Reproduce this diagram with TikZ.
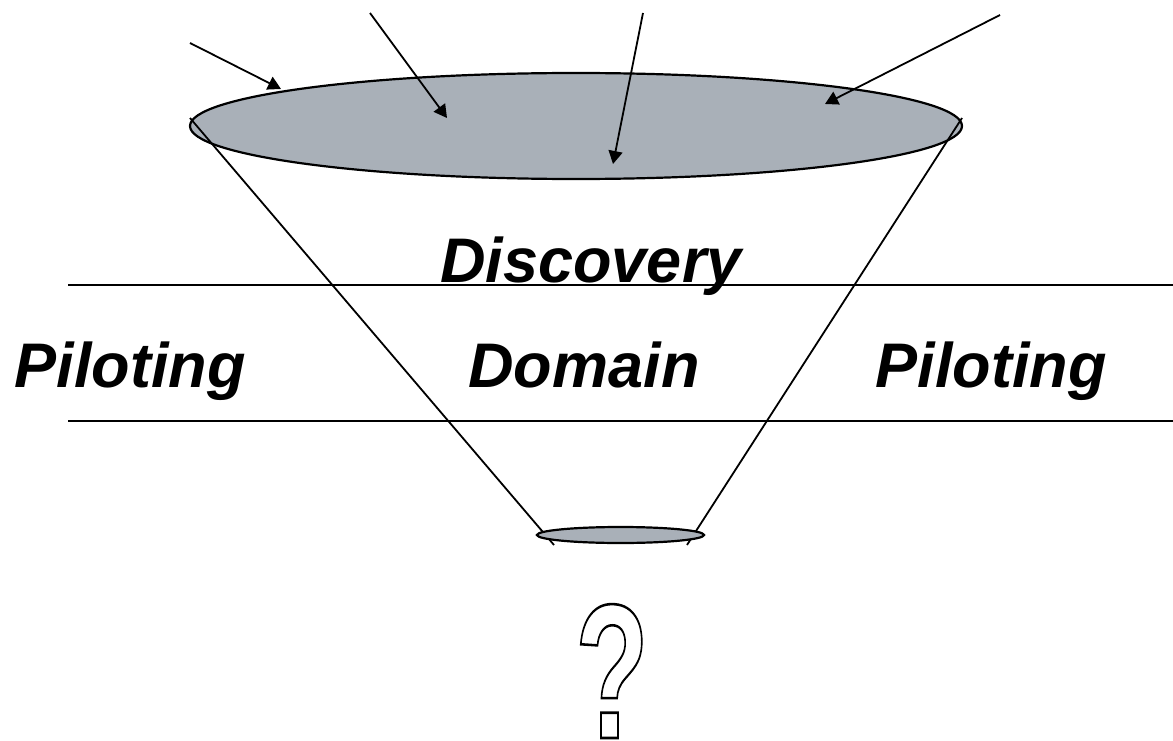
\documentclass[tikz,border=0pt]{standalone}
\usepackage{fontspec}
\setmainfont{Liberation Sans}
\usetikzlibrary{arrows.meta,shapes.geometric}
\definecolor{funnel}{RGB}{169,176,184}
\begin{document}
\begin{tikzpicture}[x=1pt,y=-1pt,
  edge/.style={line width=1.8pt},
  arr/.style={line width=1.8pt,-{Triangle[length=13pt,width=14pt]}},
  lbl/.style={font=\fontsize{63}{70}\selectfont\bfseries\itshape, inner sep=0pt, anchor=base},
  disc/.style={ellipse, draw, line width=2.2pt, fill=funnel, inner sep=0pt}]
\useasboundingbox (0,0) rectangle (1173,741);
% top opening
\node[disc, minimum width=772pt, minimum height=106pt] (top) at (576,126) {};
% cone sides
\coordinate (tl) at (190,118);
\coordinate (tr) at (962,118);
\coordinate (bl) at (554,545);
\coordinate (br) at (687,545);
\draw[edge] (tl) -- (bl);
\draw[edge] (tr) -- (br);
% bottom opening
\node[disc, minimum width=167pt, minimum height=16pt] (bot) at (620.5,535) {};
% band lines
\coordinate (l1a) at (68,285);
\coordinate (l1b) at (1173,285);
\coordinate (l2a) at (68,421);
\coordinate (l2b) at (1173,421);
\draw[edge] (l1a) -- (l1b);
\draw[edge] (l2a) -- (l2b);
% incoming arrows
\coordinate (s1) at (190,43);  \coordinate (e1) at (281,89);
\coordinate (s2) at (370,13);  \coordinate (e2) at (447,118);
\coordinate (s3) at (643,13);  \coordinate (e3) at (613,164);
\coordinate (s4) at (1000,15); \coordinate (e4) at (825,104);
\draw[arr] (s1) -- (e1);
\draw[arr] (s2) -- (e2);
\draw[arr] (s3) -- (e3);
\draw[arr] (s4) -- (e4);
% labels
\node[lbl] (disc) at (591,282) {Discovery};
\node[lbl] (pl) at (130,387) {Piloting};
\node[lbl] (dom) at (584,387) {Domain};
\node[lbl] (pr) at (991,387) {Piloting};
% question mark
\node[inner sep=0pt, anchor=base, xscale=0.64, yscale=1.02, transform shape] (q) at (612,738)
  {\fontsize{188}{190}\selectfont\bfseries\special{pdf:literal direct 1 Tr 2.5 w}?\special{pdf:literal direct 0 Tr}};
\end{tikzpicture}
\end{document}
